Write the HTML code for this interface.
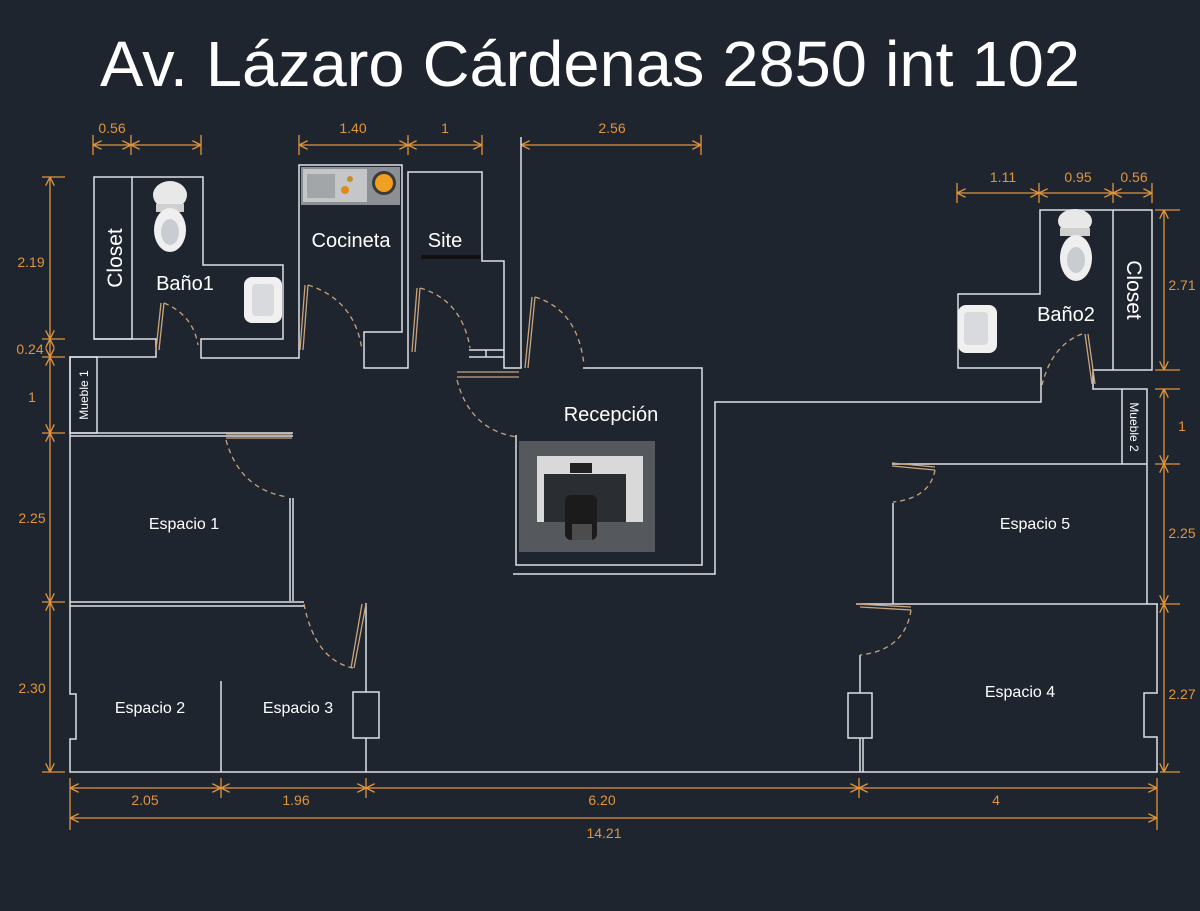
<!DOCTYPE html>
<html><head><meta charset="utf-8"><style>
html,body{margin:0;padding:0;background:#1f252f;}
svg{display:block}
text{font-family:"Liberation Sans",sans-serif;}
</style></head><body>
<svg width="1200" height="911" viewBox="0 0 1200 911" xmlns="http://www.w3.org/2000/svg">
<defs>
<marker id="a" viewBox="0 0 10 10" refX="10" refY="5" markerWidth="9" markerHeight="9" orient="auto-start-reverse" markerUnits="userSpaceOnUse"><path d="M0,0 L10,5 L0,10" fill="none" stroke="#e0943c" stroke-width="1.5"/></marker>
</defs>
<rect width="1200" height="911" fill="#1f252f"/>
<text x="100" y="86" font-size="64" fill="#fff" textLength="980" lengthAdjust="spacingAndGlyphs">Av. Lázaro Cárdenas 2850 int 102</text>

<g stroke="#e0943c" stroke-width="1.3" fill="none">
<line x1="93" y1="145" x2="131" y2="145" marker-start="url(#a)" marker-end="url(#a)"/>
<line x1="131" y1="145" x2="201" y2="145" marker-start="url(#a)" marker-end="url(#a)"/>
<line x1="93" y1="135" x2="93" y2="155"/><line x1="131" y1="135" x2="131" y2="155"/><line x1="201" y1="135" x2="201" y2="155"/>
<line x1="299" y1="145" x2="408" y2="145" marker-start="url(#a)" marker-end="url(#a)"/>
<line x1="408" y1="145" x2="482" y2="145" marker-start="url(#a)" marker-end="url(#a)"/>
<line x1="299" y1="135" x2="299" y2="155"/><line x1="408" y1="135" x2="408" y2="155"/><line x1="482" y1="135" x2="482" y2="155"/>
<line x1="521" y1="145" x2="701" y2="145" marker-start="url(#a)" marker-end="url(#a)"/>
<line x1="701" y1="135" x2="701" y2="155"/>
<line x1="957" y1="193" x2="1039" y2="193" marker-start="url(#a)" marker-end="url(#a)"/>
<line x1="1039" y1="193" x2="1113" y2="193" marker-start="url(#a)" marker-end="url(#a)"/>
<line x1="1113" y1="193" x2="1152" y2="193" marker-start="url(#a)" marker-end="url(#a)"/>
<line x1="957" y1="183" x2="957" y2="203"/><line x1="1039" y1="183" x2="1039" y2="203"/><line x1="1113" y1="183" x2="1113" y2="203"/><line x1="1152" y1="183" x2="1152" y2="203"/>
<line x1="50" y1="177" x2="50" y2="339" marker-start="url(#a)" marker-end="url(#a)"/>
<line x1="50" y1="339" x2="50" y2="357" marker-start="url(#a)" marker-end="url(#a)"/>
<line x1="50" y1="357" x2="50" y2="433" marker-start="url(#a)" marker-end="url(#a)"/>
<line x1="50" y1="433" x2="50" y2="602" marker-start="url(#a)" marker-end="url(#a)"/>
<line x1="50" y1="602" x2="50" y2="772" marker-start="url(#a)" marker-end="url(#a)"/>
<line x1="42" y1="177" x2="65" y2="177"/><line x1="42" y1="339" x2="65" y2="339"/><line x1="42" y1="357" x2="65" y2="357"/><line x1="42" y1="433" x2="65" y2="433"/><line x1="42" y1="602" x2="65" y2="602"/><line x1="42" y1="772" x2="65" y2="772"/>
<line x1="1164" y1="210" x2="1164" y2="370" marker-start="url(#a)" marker-end="url(#a)"/>
<line x1="1164" y1="389" x2="1164" y2="464" marker-start="url(#a)" marker-end="url(#a)"/>
<line x1="1164" y1="464" x2="1164" y2="604" marker-start="url(#a)" marker-end="url(#a)"/>
<line x1="1164" y1="604" x2="1164" y2="772" marker-start="url(#a)" marker-end="url(#a)"/>
<line x1="1155" y1="210" x2="1180" y2="210"/><line x1="1155" y1="370" x2="1180" y2="370"/><line x1="1155" y1="389" x2="1180" y2="389"/><line x1="1155" y1="464" x2="1180" y2="464"/><line x1="1160" y1="604" x2="1180" y2="604"/><line x1="1160" y1="772" x2="1180" y2="772"/>
<line x1="70" y1="788" x2="221" y2="788" marker-start="url(#a)" marker-end="url(#a)"/>
<line x1="221" y1="788" x2="366" y2="788" marker-start="url(#a)" marker-end="url(#a)"/>
<line x1="366" y1="788" x2="859" y2="788" marker-start="url(#a)" marker-end="url(#a)"/>
<line x1="859" y1="788" x2="1157" y2="788" marker-start="url(#a)" marker-end="url(#a)"/>
<line x1="70" y1="818" x2="1157" y2="818" marker-start="url(#a)" marker-end="url(#a)"/>
<line x1="70" y1="778" x2="70" y2="830"/><line x1="221" y1="778" x2="221" y2="798"/><line x1="366" y1="778" x2="366" y2="798"/><line x1="859" y1="778" x2="859" y2="798"/><line x1="1157" y1="778" x2="1157" y2="830"/>
</g>
<g fill="#e0943c" font-size="14" text-anchor="middle">
<text x="112" y="133">0.56</text><text x="353" y="133">1.40</text><text x="445" y="133">1</text><text x="612" y="133">2.56</text>
<text x="1003" y="182">1.11</text><text x="1078" y="182">0.95</text><text x="1134" y="182">0.56</text>
<text x="31" y="267">2.19</text><text x="30" y="354">0.24</text><text x="32" y="402">1</text><text x="32" y="523">2.25</text><text x="32" y="693">2.30</text>
<text x="1182" y="290">2.71</text><text x="1182" y="431">1</text><text x="1182" y="538">2.25</text><text x="1182" y="699">2.27</text>
<text x="145" y="805">2.05</text><text x="296" y="805">1.96</text><text x="602" y="805">6.20</text><text x="996" y="805">4</text><text x="604" y="838">14.21</text>
</g>

<g stroke="#dde0e6" stroke-width="1.5" fill="none">
<rect x="94" y="177" width="38" height="162"/>
<polyline points="132,177 203,177 203,265 283,265 283,339 201,339 201,358 299,358 299,287"/>
<polyline points="94,339 156,339 156,357 70,357 70,694 76,694 76,739 70,739 70,772 1157,772 1157,737 1144,737 1144,693 1157,693 1157,604"/>
<rect x="70" y="357" width="27" height="76"/>
<line x1="70" y1="433" x2="293" y2="433"/><line x1="70" y1="436" x2="293" y2="436"/>
<polyline points="299,287 299,165 402,165 402,332 364,332 364,368 408,368 408,172 482,172 482,261 504,261 504,368 521,368 521,137"/>
<polyline points="469,350 504,350"/><polyline points="469,357 504,357"/><line x1="486" y1="350" x2="486" y2="357"/>
<polyline points="583,368 702,368 702,565 516,565 516,435"/>
<polyline points="513,574 715,574 715,402 1041,402 1041,368 958,368 958,294 1040,294 1040,210 1152,210 1152,370 1093,370 1093,389 1147,389 1147,604"/>
<line x1="1113" y1="210" x2="1113" y2="370"/>
<line x1="1122" y1="389" x2="1122" y2="464"/>
<line x1="892" y1="464" x2="1147" y2="464"/>
<line x1="893" y1="503" x2="893" y2="604"/>
<line x1="856" y1="604" x2="1158" y2="604"/>
<polyline points="860,655 860,693"/><rect x="848" y="693" width="24" height="45"/><line x1="860" y1="738" x2="860" y2="772"/><line x1="863" y1="738" x2="863" y2="772"/>
<line x1="290" y1="498" x2="290" y2="601"/><line x1="293" y1="498" x2="293" y2="601"/>
<line x1="70" y1="602" x2="304" y2="602"/><line x1="70" y1="606" x2="304" y2="606"/>
<line x1="221" y1="681" x2="221" y2="772"/>
<line x1="366" y1="603" x2="366" y2="692"/><rect x="353" y="692" width="26" height="46"/><line x1="366" y1="738" x2="366" y2="772"/>
</g>

<g stroke="#c9a47c" stroke-width="1.3" fill="none">
<path d="M161,303 L156,350 M164,303 L159,350"/><path d="M164,303 Q193,315 198,345" stroke-dasharray="5,4"/>
<path d="M305,285 L300,350 M308,285 L303,350"/><path d="M308,285 Q355,300 362,350" stroke-dasharray="5,4"/>
<path d="M417,288 L412,352 M420,288 L415,352"/><path d="M420,288 Q462,300 470,348" stroke-dasharray="5,4"/>
<path d="M532,297 L525,368 M535,297 L528,368"/><path d="M535,297 Q578,310 584,365" stroke-dasharray="5,4"/>
<path d="M457,372 L519,372 M457,377 L519,377"/><path d="M457,380 Q470,430 517,437" stroke-dasharray="5,4"/>
<path d="M226,434 L292,434 M226,438 L292,438"/><path d="M226,440 Q240,490 288,497" stroke-dasharray="5,4"/>
<path d="M304,604 Q315,660 353,668" stroke-dasharray="5,4"/><path d="M366,604 L354,668 M362,604 L351,668"/>
<path d="M1085,334 L1092,384 M1088,334 L1095,384"/><path d="M1082,334 Q1052,345 1042,385" stroke-dasharray="5,4"/>
<path d="M892,463 L935,467 M892,466 L935,470"/><path d="M935,470 Q930,498 893,502" stroke-dasharray="5,4"/>
<path d="M856,604 L911,607 M860,607 L911,610"/><path d="M911,610 Q905,650 860,655" stroke-dasharray="5,4"/>
</g>

<g>
<ellipse cx="170" cy="195" rx="17" ry="14" fill="#e8e8e8"/><rect x="156" y="204" width="28" height="8" fill="#cfcfcf"/>
<ellipse cx="170" cy="230" rx="16" ry="22" fill="#efefef"/><ellipse cx="170" cy="232" rx="9" ry="13" fill="#c9ccd0"/>
<rect x="244" y="277" width="38" height="46" rx="8" fill="#f0f0f0"/><rect x="252" y="284" width="22" height="32" rx="4" fill="#d8dadd"/>
<ellipse cx="1075" cy="221" rx="17" ry="12" fill="#e8e8e8"/><rect x="1060" y="228" width="30" height="8" fill="#cfcfcf"/>
<ellipse cx="1076" cy="258" rx="16" ry="23" fill="#efefef"/><ellipse cx="1076" cy="260" rx="9" ry="13" fill="#c9ccd0"/>
<rect x="958" y="305" width="39" height="48" rx="8" fill="#f0f0f0"/><rect x="964" y="312" width="24" height="33" rx="4" fill="#d8dadd"/>
<rect x="301" y="167" width="99" height="38" fill="#8c8f93"/><rect x="303" y="169" width="64" height="33" fill="#c4c6c8"/><rect x="307" y="174" width="28" height="24" fill="#a3a6a9"/>
<circle cx="345" cy="190" r="4" fill="#e08a1a"/><circle cx="350" cy="179" r="3" fill="#c88a2a"/>
<circle cx="384" cy="183" r="12" fill="#3a3a3a"/><circle cx="384" cy="183" r="9" fill="#f0a020"/>
<rect x="421" y="255" width="60" height="4" fill="#111"/>
<rect x="519" y="441" width="136" height="111" fill="#55585c"/><rect x="537" y="456" width="106" height="66" fill="#d9d9d9"/><rect x="544" y="474" width="82" height="48" fill="#2a2d31"/>
<rect x="570" y="463" width="22" height="10" fill="#222"/><rect x="565" y="495" width="32" height="45" rx="6" fill="#1b1b1b"/><rect x="572" y="524" width="20" height="16" fill="#4c4c4c"/>
</g>

<g fill="#fff" text-anchor="middle">
<text transform="translate(122,258) rotate(-90)" font-size="21">Closet</text>
<text x="185" y="290" font-size="20">Baño1</text>
<text x="351" y="247" font-size="20">Cocineta</text>
<text x="445" y="247" font-size="20">Site</text>
<text x="611" y="421" font-size="20">Recepción</text>
<text x="1066" y="321" font-size="20">Baño2</text>
<text transform="translate(1127,290) rotate(90)" font-size="21">Closet</text>
<text transform="translate(88,395) rotate(-90)" font-size="12">Mueble 1</text>
<text transform="translate(1130,427) rotate(90)" font-size="12">Mueble 2</text>
<text x="184" y="529" font-size="16">Espacio 1</text>
<text x="150" y="713" font-size="16">Espacio 2</text>
<text x="298" y="713" font-size="16">Espacio 3</text>
<text x="1035" y="529" font-size="16">Espacio 5</text>
<text x="1020" y="697" font-size="16">Espacio 4</text>
</g>
</svg>
</body></html>
